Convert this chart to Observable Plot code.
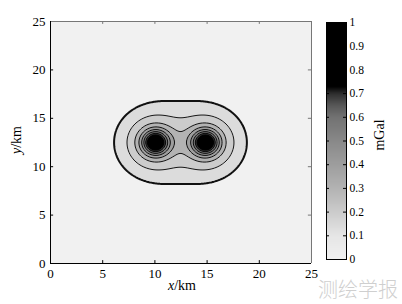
<!DOCTYPE html>
<html><head><meta charset="utf-8">
<script src="https://cdn.jsdelivr.net/npm/d3@7"></script>
<script src="https://cdn.jsdelivr.net/npm/@observablehq/plot@0.6"></script>
<style>
body{margin:0;background:#fff;}
#wrap{position:relative;width:402px;height:304px;overflow:hidden;font-family:'Liberation Serif',serif;}
#wrap svg{position:absolute;top:0;background:transparent;}
#wrap svg text{font-family:'Liberation Serif',serif;}
.lab{position:absolute;font-family:'Liberation Serif',serif;font-size:14px;color:#000;white-space:nowrap;}
</style></head>
<body><div id="wrap"></div>
<script>
// two anomalous sources (km, mGal)
const sourceX = [10.05, 14.85];
const sourceY = [12.5, 12.5];
const sourceDepth = [1.37, 1.37];
const sourcePeak = [1.035, 1.035];
const fieldBase = 0.1;
// contour levels (mGal)
const levels = [0.14, 0.2, 0.3, 0.4, 0.5, 0.6, 0.7, 0.8, 0.9, 1.0];
// colormap
const colorStops = [0, 0.1, 0.2, 0.3, 0.4, 0.5, 0.6, 0.65, 0.7, 0.73, 1];
const colorGrays = ["#f1f1f1","#e6e6e6","#cccccc","#b3b3b3","#9e9e9e","#898989","#727272","#585858","#2e2e2e","#000000","#000000"];
const axisTicks = [0, 5, 10, 15, 20, 25];
const barTicks = [0, 0.1, 0.2, 0.3, 0.4, 0.5, 0.6, 0.7, 0.8, 0.9, 1];

function field(x, y) {
  let s = fieldBase;
  for (let i = 0; i < sourceX.length; i++) {
    const h = sourceDepth[i];
    const r2 = (x - sourceX[i]) ** 2 + (y - sourceY[i]) ** 2;
    s += sourcePeak[i] * Math.pow(1 + r2 / (h * h), -1.5);
  }
  return s;
}

const colorScale = {type: "linear", domain: colorStops, range: colorGrays, clamp: true};
const wrap = document.getElementById("wrap");
const serif = "'Liberation Serif', serif";

const main = Plot.plot({
  width: 320, height: 304,
  marginLeft: 50, marginRight: 9, marginTop: 21, marginBottom: 41,
  style: {fontFamily: serif, fontSize: "13px", background: "transparent"},
  x: {domain: [0, 25], ticks: axisTicks, label: null},
  y: {domain: [0, 25], ticks: axisTicks, label: null},
  color: colorScale,
  marks: [
    Plot.frame({fill: colorGrays[0], stroke: "none"}),
    Plot.contour({x1: 0, y1: 0, x2: 25, y2: 25, fill: field, thresholds: levels, stroke: "none", pixelSize: 1}),
    Plot.contour({x1: 0, y1: 0, x2: 25, y2: 25, value: field, thresholds: levels.slice(1), fill: "none", stroke: "#000", strokeWidth: 0.9, pixelSize: 1}),
    Plot.contour({x1: 0, y1: 0, x2: 25, y2: 25, value: field, thresholds: levels.slice(0, 1), fill: "none", stroke: "#111", strokeWidth: 2, pixelSize: 1}),
    Plot.ruleX(axisTicks, {y1: 0, y2: 0.3, stroke: "#000"}),
    Plot.ruleX(axisTicks, {y1: 24.7, y2: 25, stroke: "#777"}),
    Plot.ruleY(axisTicks, {x1: 0, x2: 0.3, stroke: "#000"}),
    Plot.ruleY(axisTicks, {x1: 24.7, x2: 25, stroke: "#777"}),
    Plot.ruleY([25], {stroke: "#777"}),
    Plot.ruleX([25], {stroke: "#777"}),
    Plot.ruleY([0], {stroke: "#000"}),
    Plot.ruleX([0], {stroke: "#000"}),
    Plot.axisX({ticks: axisTicks, tickSize: 0, tickPadding: 5, label: null, fontFamily: serif}),
    Plot.axisY({ticks: axisTicks, tickSize: 0, tickPadding: 5, label: null, fontFamily: serif})
  ]
});
main.style.left = "0px";
wrap.appendChild(main);

const bar = Plot.plot({
  width: 76, height: 304,
  marginLeft: 0, marginRight: 56, marginTop: 22, marginBottom: 45,
  style: {fontFamily: serif, fontSize: "11.5px", background: "transparent"},
  x: {domain: [0, 1], axis: null},
  y: {domain: [0, 1], ticks: barTicks, label: null},
  color: colorScale,
  marks: [
    Plot.raster({x1: 0, x2: 1, y1: 0, y2: 1, fill: (x, y) => y, pixelSize: 1}),
    Plot.ruleY(barTicks, {x1: 0, x2: 0.15, stroke: "#000"}),
    Plot.ruleY(barTicks, {x1: 0.85, x2: 1, stroke: "#000"}),
    Plot.frame({stroke: "#000"}),
    Plot.axisY({anchor: "right", ticks: barTicks, tickSize: 0, tickPadding: 3, tickFormat: d3.format("~g"), label: null, fontFamily: serif})
  ]
});
bar.style.left = "326px";
wrap.appendChild(bar);

function label(html, css) {
  const d = document.createElement("div");
  d.className = "lab";
  d.innerHTML = html;
  Object.assign(d.style, css);
  wrap.appendChild(d);
}
label("<i>x</i>/km", {left: "168px", top: "278px"});
label("<i>y</i>/km", {left: "3px", top: "132px", transform: "rotate(-90deg)", transformOrigin: "center"});
label("mGal", {left: "364px", top: "127px", transform: "rotate(-90deg)", transformOrigin: "center"});
label("测绘学报", {left: "318px", top: "274px", fontFamily: "'Noto Sans CJK SC', sans-serif", fontSize: "20px", color: "#cfcfcf", fontWeight: "300"});
</script></body></html>
